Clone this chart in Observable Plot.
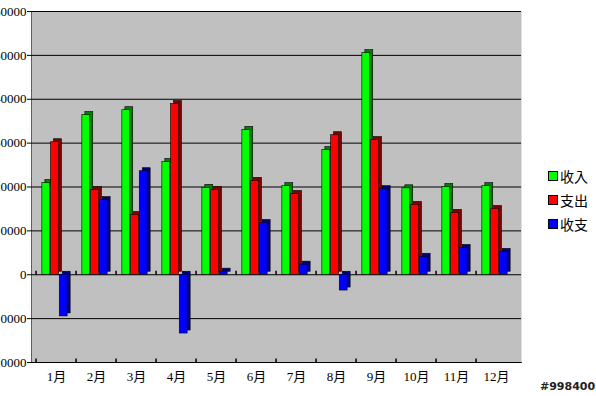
<!DOCTYPE html>
<html>
<head>
<meta charset="utf-8">
<script src="https://cdn.jsdelivr.net/npm/d3@7"></script>
<script src="https://cdn.jsdelivr.net/npm/@observablehq/plot@0.6"></script>
<style>
  body { margin: 0; background: #fff; }
  #wrap { position: relative; width: 596px; height: 396px; overflow: hidden; }
  #legend { position: absolute; left: 548px; top: 164px; font: 14px "Noto Sans CJK TC", sans-serif; color: #000; }
  #legend div { height: 24px; line-height: 20px; display: flex; align-items: center; }
  #legend span.sw { display: inline-block; width: 8px; height: 8px; border: 1px solid #000; margin-right: 2px; }
  #mark { position: absolute; left: 540px; top: 380px; font: bold 11px "DejaVu Sans", sans-serif; color: #222; text-shadow: 0 0 1px #fff, 0 0 1px #fff; }
</style>
</head>
<body>
<div id="wrap">
  <div id="chart"></div>
  <div id="legend"></div>
  <div id="mark">#998400</div>
</div>
<script>
const months = ["1月","2月","3月","4月","5月","6月","7月","8月","9月","10月","11月","12月"];
const income  = [20900, 36400, 37500, 25700, 19800, 33000, 20200, 28400, 50500, 19700, 20000, 20200];
const expense = [30200, 19300, 13600, 38900, 19300, 21400, 18400, 31800, 30700, 15900, 14100, 15000];
const balance = [-9500, 17000, 23600, -13400, 700, 11800, 2300, -3600, 19500, 4100, 6100, 5200];
const seriesNames = ["收入", "支出", "收支"];
const yTicks = [-20000, -10000, 0, 10000, 20000, 30000, 40000, 50000, 60000];

const frontColors = ["#00ff00", "#ff0000", "#0000ff"];
const sideColors = ["#008000", "#800000", "#000080"];

const rows = months.map((m, i) => ({month: m, v0: income[i], v1: expense[i], v2: balance[i]}));

const W = 596, H = 396, mL = 31, mR = 75, mT = 11, mB = 34;
const bw = (W - mL - mR) / months.length;
const depth = 3;
const barW = 8.7;
const pad = (bw - 3 * barW - depth) / 2;

// small upward tick symbol for category boundaries
const tickUp = {draw(ctx) { ctx.moveTo(0, 0); ctx.lineTo(0, -4); }};

const barMarks = [];
for (let k = 0; k < 3; k++) {
  const insetLeft = pad + barW * k;
  const insetRight = bw - insetLeft - barW;
  barMarks.push(Plot.barY(rows, {x: "month", y: "v" + k, fill: sideColors[k], stroke: "#000", strokeWidth: 0.6, dx: depth, dy: -depth, insetLeft, insetRight}));
  barMarks.push(Plot.barY(rows, {x: "month", y: "v" + k, fill: frontColors[k], stroke: "#000", strokeWidth: 0.6, insetLeft, insetRight}));
}

const chart = Plot.plot({
  width: W, height: H,
  marginLeft: mL, marginRight: mR, marginTop: mT, marginBottom: mB,
  style: {fontFamily: "'Liberation Serif', 'Noto Sans CJK TC', serif", fontSize: "13px", color: "#000", background: "transparent"},
  x: {domain: months, padding: 0, label: null, tickSize: 0, tickPadding: 9, line: true},
  y: {domain: [-20000, 60000], ticks: yTicks, tickFormat: d => String(d), label: null, tickSize: 4, tickPadding: 1, line: true},
  marks: [
    Plot.frame({fill: "#c0c0c0", stroke: "none"}),
    Plot.ruleY(yTicks, {stroke: "#000", strokeWidth: 1}),
    Plot.dot(months, {x: d => d, y: 0, symbol: tickUp, r: 4, stroke: "#000", fill: "none", dx: -bw / 2}),
    Plot.dot(months, {x: d => d, y: -20000, symbol: tickUp, r: 4, stroke: "#000", fill: "none", dx: -bw / 2}),
    ...barMarks
  ]
});
document.getElementById("chart").appendChild(chart);

const legend = document.getElementById("legend");
seriesNames.forEach((n, k) => {
  const d = document.createElement("div");
  d.innerHTML = `<span class="sw" style="background:${frontColors[k]}"></span>${n}`;
  legend.appendChild(d);
});
</script>
</body>
</html>
